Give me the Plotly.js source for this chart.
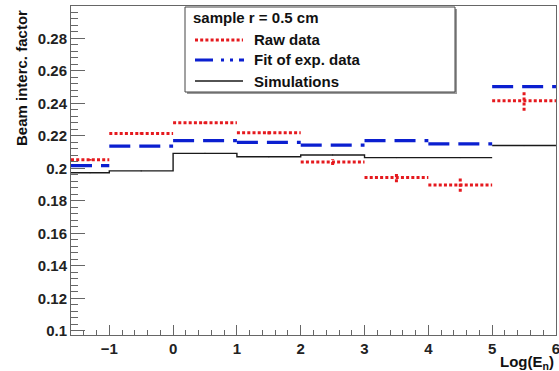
<!DOCTYPE html>
<html>
<head>
<meta charset="utf-8">
<script src="https://cdn.plot.ly/plotly-3.0.1.min.js"></script>
<style>html,body{margin:0;padding:0;background:#fff;}#chart{width:559px;height:371px;}</style>
</head>
<body>
<div id="chart"></div>
<script>
// ---- data ----
const binEdges = [-1.6, -1, 0, 1, 2, 3, 4, 5, 6];
const rawData  = [0.2052, 0.2215, 0.2280, 0.2219, 0.2039, 0.1943, 0.1898, 0.2416];
const rawErr   = [0.0005, 0.0007, 0.0007, 0.0010, 0.0018, 0.0029, 0.0043, 0.0062];
const fitData  = [0.2016, 0.2137, 0.2170, 0.2160, 0.2143, 0.2170, 0.2150, 0.2503];
const simData  = [0.1973, 0.1984, 0.2092, 0.2071, 0.2082, 0.2066, 0.2066, 0.2140];
const simErr   = [0.0003, 0.0003, 0.0003, 0.0003, 0.0003, 0.0003, 0.0003, 0.0003];
const legendHeader = 'sample r = 0.5 cm';
const legendLabels = ['Raw data', 'Fit of exp. data', 'Simulations'];
const yTitle = 'Beam interc. factor';
const xTitle = 'Log(E<sub>n</sub>)';

// ---- helpers building segment paths from the arrays ----
function segments(vals) {
  const x = [], y = [];
  vals.forEach((v, i) => { x.push(binEdges[i], binEdges[i + 1], null); y.push(v, v, null); });
  return {x, y};
}
function steps(vals, breakBefore) {
  const x = [], y = [];
  vals.forEach((v, i) => {
    if (breakBefore.includes(i)) { x.push(null); y.push(null); }
    x.push(binEdges[i], binEdges[i + 1]); y.push(v, v);
  });
  return {x, y};
}
function vbars(vals, errs) {
  const x = [], y = [];
  vals.forEach((v, i) => {
    const c = (binEdges[i] + binEdges[i + 1]) / 2;
    x.push(c, c, null); y.push(v - errs[i], v + errs[i], null);
  });
  return {x, y};
}
const centers = simData.map((v, i) => (binEdges[i] + binEdges[i + 1]) / 2);

const RED = '#e5191e', BLUE = '#0b1fd0', BLACK = '#1a1a1a';
const rawSeg = segments(rawData), rawV = vbars(rawData, rawErr);
const fitSeg = segments(fitData), simSt = steps(simData, [7]);

const traces = [
  {x: simSt.x, y: simSt.y, mode: 'lines', line: {color: BLACK, width: 1.4}, hoverinfo: 'skip'},
  {x: centers, y: simData, mode: 'markers', marker: {size: 0.1, color: BLACK},
   error_y: {type: 'data', array: simErr, color: BLACK, thickness: 1, width: 0}, hoverinfo: 'skip'},
  {x: fitSeg.x, y: fitSeg.y, mode: 'lines', line: {color: BLUE, width: 3.2, dash: '21px,9px'}, hoverinfo: 'skip'},
  {x: rawSeg.x, y: rawSeg.y, mode: 'lines', line: {color: RED, width: 3, dash: '3px,2.2px'}, hoverinfo: 'skip'},
  {x: rawV.x, y: rawV.y, mode: 'lines', line: {color: RED, width: 3, dash: '3px,2.2px'}, hoverinfo: 'skip'}
];

// ---- layout in pixel terms ----
const L = 71, R = 556, T = 6, B = 335, W = 559, H = 371;
const px = p => (p - L) / (R - L);
const py = p => 1 - (p - T) / (B - T);
const FONT = 'Liberation Sans, Arial, Helvetica, sans-serif';

const shapes = [
  {type: 'rect', xref: 'paper', yref: 'paper', x0: px(187), x1: px(457), y0: py(94), y1: py(9),
   line: {width: 0}, fillcolor: '#9a9a9a', layer: 'above'},
  {type: 'rect', xref: 'paper', yref: 'paper', x0: px(185), x1: px(455), y0: py(92), y1: py(7),
   line: {color: '#444', width: 1}, fillcolor: '#ffffff', layer: 'above'},
  {type: 'line', xref: 'paper', yref: 'paper', x0: px(195), x1: px(243), y0: py(40), y1: py(40),
   line: {color: RED, width: 3, dash: '3px,2.2px'}, layer: 'above'},
  {type: 'line', xref: 'paper', yref: 'paper', x0: px(195), x1: px(244), y0: py(60), y1: py(60),
   line: {color: BLUE, width: 3, dash: '18px,8px,3px,6px,3px,6px'}, layer: 'above'},
  {type: 'line', xref: 'paper', yref: 'paper', x0: px(195), x1: px(243), y0: py(81), y1: py(81),
   line: {color: BLACK, width: 1.4}, layer: 'above'}
];

const legFont = {family: FONT, size: 15, color: '#111', weight: 'bold'};
const annotations = [
  {xref: 'paper', yref: 'paper', x: px(191), y: py(17), xanchor: 'left', yanchor: 'middle',
   text: legendHeader, showarrow: false, font: legFont},
  {xref: 'paper', yref: 'paper', x: px(252), y: py(40), xanchor: 'left', yanchor: 'middle',
   text: legendLabels[0], showarrow: false, font: legFont},
  {xref: 'paper', yref: 'paper', x: px(252), y: py(60), xanchor: 'left', yanchor: 'middle',
   text: legendLabels[1], showarrow: false, font: legFont},
  {xref: 'paper', yref: 'paper', x: px(252), y: py(81), xanchor: 'left', yanchor: 'middle',
   text: legendLabels[2], showarrow: false, font: legFont},
  {xref: 'paper', yref: 'paper', x: px(21), y: py(78), xanchor: 'center', yanchor: 'middle',
   textangle: -90, text: yTitle, showarrow: false, font: legFont},
  {xref: 'paper', yref: 'paper', x: px(556), y: py(362), xanchor: 'right', yanchor: 'middle',
   text: xTitle, showarrow: false, font: legFont}
];

const tickFont = {family: FONT, size: 15, color: '#222', weight: 'bold'};
const layout = {
  width: W, height: H,
  margin: {l: L, r: W - R, t: T, b: H - B, pad: 0},
  paper_bgcolor: '#fff', plot_bgcolor: '#fff',
  showlegend: false,
  xaxis: {range: [-1.6, 6.0005], tick0: 0, dtick: 1, ticks: 'inside', ticklen: 10, tickcolor: '#666',
          ticklabeloverflow: 'allow',
          showgrid: false, zeroline: false, showline: true, linecolor: '#666', linewidth: 1, mirror: true,
          tickfont: tickFont, minor: {dtick: 0.2, ticks: 'inside', ticklen: 5, tickcolor: '#666', showgrid: false}},
  yaxis: {range: [0.0974, 0.2999], tick0: 0.1, dtick: 0.02, ticks: 'inside', ticklen: 14, tickcolor: '#666',
          showgrid: false, zeroline: false, showline: true, linecolor: '#666', linewidth: 1, mirror: true,
          tickfont: tickFont, minor: {dtick: 0.004, ticks: 'inside', ticklen: 7, tickcolor: '#666', showgrid: false}},
  shapes: shapes,
  annotations: annotations
};

Plotly.newPlot('chart', traces, layout, {staticPlot: true, displayModeBar: false});
</script>
</body>
</html>
